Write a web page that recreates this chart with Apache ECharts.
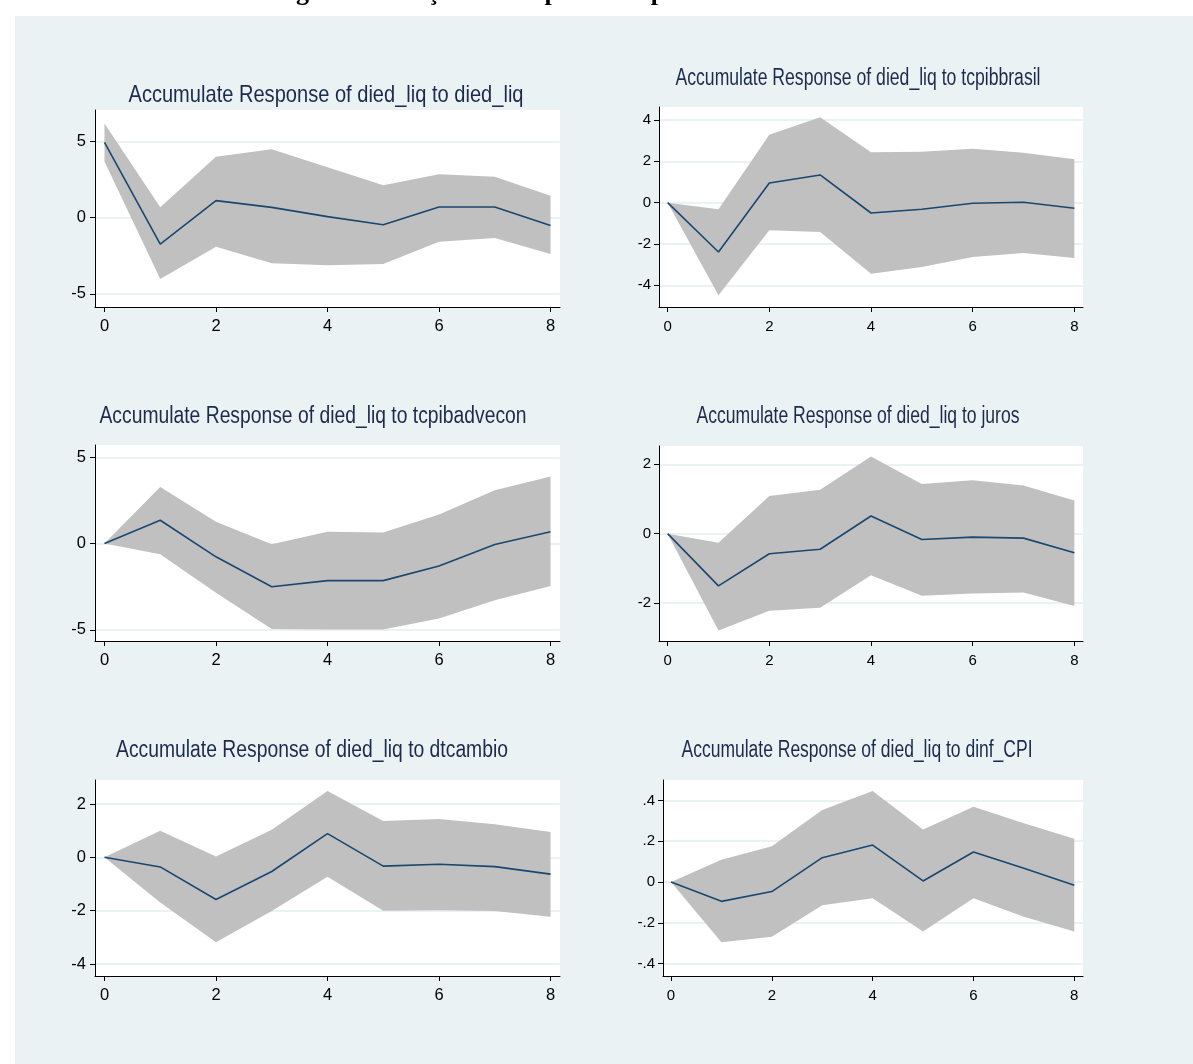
<!DOCTYPE html>
<html><head><meta charset="utf-8">
<script src="https://cdn.jsdelivr.net/npm/echarts@6/dist/echarts.min.js"></script>
<style>html,body{margin:0;padding:0;background:#fff}#c{width:1193px;height:1064px}</style>
</head><body><div id="c"></div>
<script>
// ---------- data ----------
const steps = [0, 1, 2, 3, 4, 5, 6, 7, 8];
const xTicks = [0, 2, 4, 6, 8];
const pageTitle = 'Figura 4: Funções de Impulso Resposta';
const titles = [
  'Accumulate Response of died_liq to died_liq',
  'Accumulate Response of died_liq to tcpibbrasil',
  'Accumulate Response of died_liq to tcpibadvecon',
  'Accumulate Response of died_liq to juros',
  'Accumulate Response of died_liq to dtcambio',
  'Accumulate Response of died_liq to dinf_CPI'
];
// died_liq -> died_liq
const resp1  = [4.95, -1.73, 1.12, 0.68, 0.07, -0.46, 0.70, 0.70, -0.52];
const upper1 = [6.20, 0.68, 4.01, 4.50, 3.32, 2.13, 2.85, 2.70, 1.45];
const lower1 = [3.70, -4.03, -1.91, -3.00, -3.13, -3.05, -1.58, -1.34, -2.39];
const yTicks1 = [-5, 0, 5];
// tcpibbrasil
const resp2  = [0, -2.39, 0.95, 1.34, -0.50, -0.32, -0.03, 0.02, -0.27];
const upper2 = [0, -0.32, 3.29, 4.13, 2.44, 2.47, 2.61, 2.42, 2.10];
const lower2 = [0, -4.48, -1.34, -1.42, -3.44, -3.11, -2.63, -2.44, -2.68];
const yTicks2 = [-4, -2, 0, 2, 4];
// tcpibadvecon
const resp3  = [0, 1.35, -0.77, -2.51, -2.15, -2.15, -1.30, -0.06, 0.68];
const upper3 = [0, 3.27, 1.26, -0.04, 0.68, 0.64, 1.68, 3.09, 3.89];
const lower3 = [0, -0.62, -2.86, -4.95, -4.99, -4.99, -4.35, -3.29, -2.46];
const yTicks3 = [-5, 0, 5];
// juros
const resp4  = [0, -1.51, -0.58, -0.45, 0.51, -0.17, -0.10, -0.13, -0.55];
const upper4 = [0, -0.26, 1.09, 1.27, 2.23, 1.43, 1.54, 1.39, 0.96];
const lower4 = [0, -2.80, -2.23, -2.14, -1.20, -1.79, -1.73, -1.70, -2.09];
const yTicks4 = [-2, 0, 2];
// dtcambio
const resp5  = [0, -0.36, -1.58, -0.53, 0.89, -0.33, -0.26, -0.35, -0.63];
const upper5 = [0, 1.00, 0.03, 1.03, 2.49, 1.36, 1.44, 1.24, 0.95];
const lower5 = [0, -1.69, -3.18, -2.01, -0.73, -2.00, -1.98, -2.01, -2.23];
const yTicks5 = [-4, -2, 0, 2];
// dinf_CPI
const resp6  = [0, -0.095, -0.047, 0.119, 0.181, 0.005, 0.147, 0.067, -0.016];
const upper6 = [0, 0.109, 0.175, 0.353, 0.446, 0.257, 0.369, 0.288, 0.212];
const lower6 = [0, -0.296, -0.268, -0.114, -0.080, -0.243, -0.080, -0.170, -0.243];
const yTicks6 = [-0.4, -0.2, 0, 0.2, 0.4];

// ---------- layout / style ----------
const panels = [
  {resp: resp1, up: upper1, lo: lower1, yt: yTicks1, box: [95, 110, 465, 197], xr: [-0.17, 8.17], yr: [-5.87, 7.08], tfs: 24, tw: 395, lfs: 16.5, xm: 11, ym: 9, tc: [326, 95]},
  {resp: resp2, up: upper2, lo: lower2, yt: yTicks2, box: [659, 107, 424, 200], xr: [-0.17, 8.17], yr: [-5.05, 4.63], tfs: 23, tw: 365, lfs: 15, xm: 12, ym: 8, tc: [858, 79]},
  {resp: resp3, up: upper3, lo: lower3, yt: yTicks3, box: [95, 445, 465, 196], xr: [-0.17, 8.17], yr: [-5.65, 5.71], tfs: 23, tw: 427, lfs: 16.5, xm: 11, ym: 9, tc: [313, 417]},
  {resp: resp4, up: upper4, lo: lower4, yt: yTicks4, box: [659, 446, 424, 195], xr: [-0.17, 8.17], yr: [-3.10, 2.53], tfs: 23, tw: 323, lfs: 15, xm: 12, ym: 8, tc: [858, 417]},
  {resp: resp5, up: upper5, lo: lower5, yt: yTicks5, box: [95, 780, 465, 196], xr: [-0.17, 8.17], yr: [-4.45, 2.90], tfs: 23, tw: 392, lfs: 16.5, xm: 11, ym: 9, tc: [312, 751]},
  {resp: resp6, up: upper6, lo: lower6, yt: yTicks6, box: [663, 780, 420, 196], xr: [-0.159, 8.173], yr: [-0.461, 0.50], tfs: 23, tw: 351, lfs: 15, xm: 12, ym: 8, tc: [857, 751]}
];
const FONT = '"Liberation Sans", Arial, sans-serif';
const fmtY = v => {
  let s = String(Math.round(v * 100) / 100);
  return s.replace(/^0\./, '.').replace(/^-0\./, '-.');
};
const mctx = document.createElement('canvas').getContext('2d');
const textWidth = (t, font) => { mctx.font = font; return mctx.measureText(t).width; };

const grid = [], xAxis = [], yAxis = [], series = [];
const graphic = [
  {type: 'rect', shape: {x: 0, y: 0, width: 1193, height: 16}, style: {fill: '#fff'}, z: 1},
  {type: 'rect', shape: {x: 0, y: 0, width: 15, height: 1064}, style: {fill: '#fff'}, z: 1},
  {type: 'text', x: 273, y: 6, z: 5, style: {text: pageTitle, font: 'bold 26px "Liberation Serif"', fill: '#000', align: 'left', verticalAlign: 'bottom'}}
];

panels.forEach((p, i) => {
  grid.push({left: p.box[0], top: p.box[1], width: p.box[2], height: p.box[3],
    show: true, backgroundColor: '#ffffff', borderWidth: 0, containLabel: false});
  xAxis.push({gridIndex: i, type: 'value', min: p.xr[0], max: p.xr[1],
    axisLine: {show: true, onZero: false, lineStyle: {color: '#000', width: 1}},
    axisTick: {show: true, customValues: xTicks, length: 5, lineStyle: {color: '#000'}},
    axisLabel: {customValues: xTicks, color: '#000', fontFamily: FONT, fontSize: p.lfs, margin: p.xm},
    splitLine: {show: false}});
  yAxis.push({gridIndex: i, type: 'value', min: p.yr[0], max: p.yr[1],
    axisLine: {show: true, onZero: false, lineStyle: {color: '#000', width: 1}},
    axisTick: {show: true, customValues: p.yt, length: 5, lineStyle: {color: '#000'}},
    axisLabel: {customValues: p.yt, color: '#000', fontFamily: FONT, fontSize: p.lfs, margin: p.ym, formatter: fmtY},
    splitLine: {show: true, lineStyle: {color: '#e4eef0', width: 1.5}}});
  const up = p.up, lo = p.lo;
  series.push({type: 'custom', xAxisIndex: i, yAxisIndex: i, silent: true, z: 1,
    data: steps.map((s, k) => [s, lo[k], up[k]]),
    encode: {x: 0, y: [1, 2]},
    renderItem: (params, api) => {
      if (params.dataIndexInside !== 0) return null;
      const top = steps.map((s, k) => api.coord([s, up[k]]));
      const bot = steps.map((s, k) => api.coord([s, lo[k]])).reverse();
      return {type: 'polygon', shape: {points: top.concat(bot)}, style: {fill: '#c0c0c0'}};
    }});
  series.push({type: 'line', xAxisIndex: i, yAxisIndex: i, z: 3, symbol: 'none', silent: true,
    data: steps.map((s, k) => [s, p.resp[k]]),
    lineStyle: {color: '#1a476f', width: 1.6}});
  const tfont = p.tfs + 'px "Liberation Sans"';
  const sx = p.tw / textWidth(titles[i], tfont);
  graphic.push({type: 'text', x: p.tc[0], y: p.tc[1], z: 5, scaleX: sx,
    style: {text: titles[i], font: tfont, fill: '#1c2b4d', align: 'center', verticalAlign: 'middle'}});
});

const chart = echarts.init(document.getElementById('c'), null, {renderer: 'canvas'});
chart.setOption({
  animation: false,
  backgroundColor: '#eaf2f3',
  grid, xAxis, yAxis, series, graphic
});
</script>
</body></html>
